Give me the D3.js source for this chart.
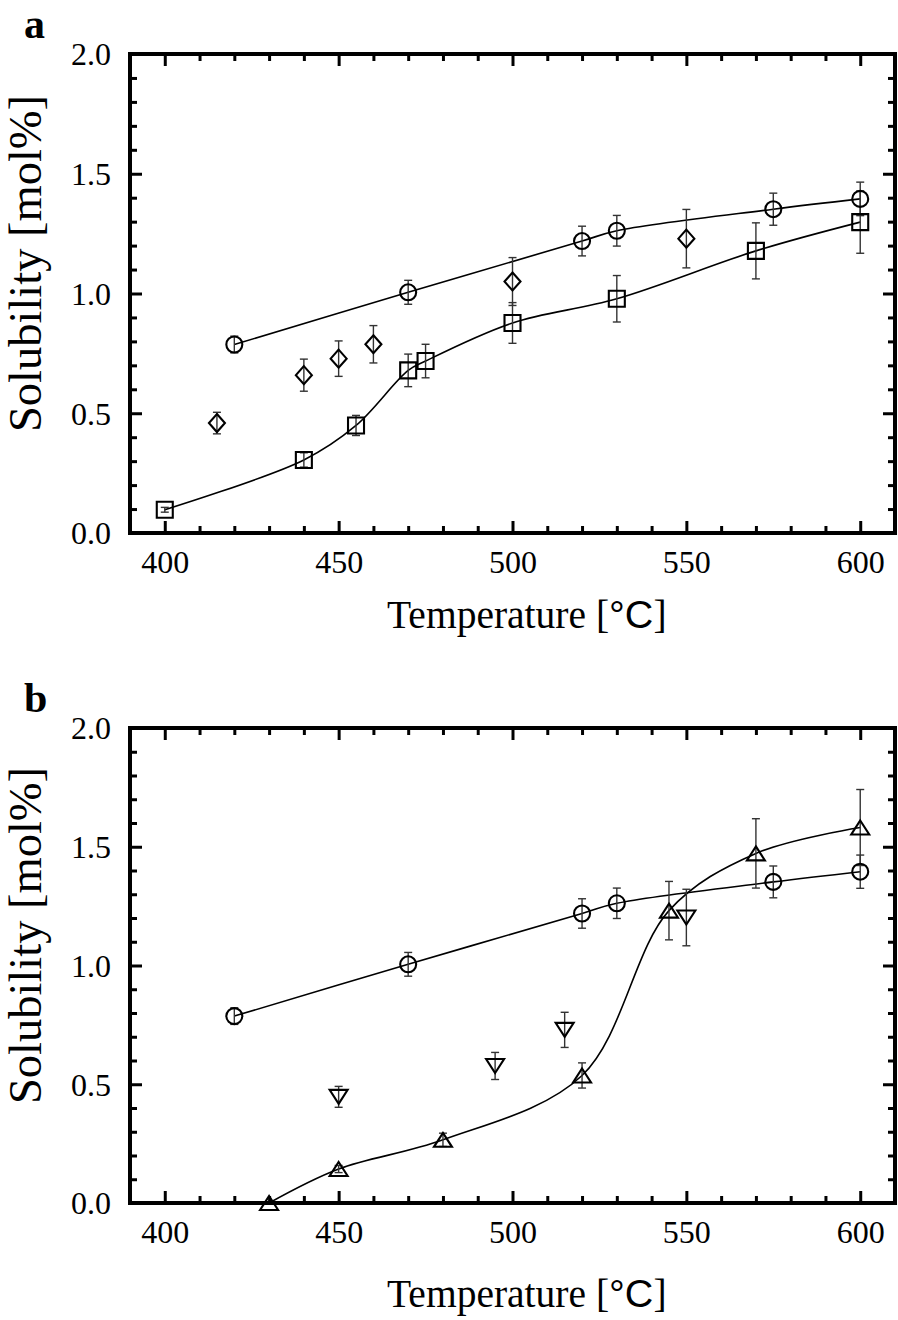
<!DOCTYPE html>
<html>
<head>
<meta charset="utf-8">
<script src="https://cdn.jsdelivr.net/npm/d3@7"></script>
<style>
  html, body { margin: 0; padding: 0; background: #fff; }
  svg { display: block; }
  svg text { font-family: "Liberation Serif", "Times New Roman", Times, serif; }
  svg text tspan.sans { font-family: "Liberation Sans", Arial, sans-serif; }
</style>
</head>
<body>
<svg id="chart" width="898" height="1320"></svg>
<script>
// ---- Data ----
const xTickLabels = [400, 450, 500, 550, 600];
const yTickLabels = [0.0, 0.5, 1.0, 1.5, 2.0];

// circles (both panels)
const circleT = [420, 470, 520, 530, 575, 600];
const circleV = [0.787, 1.005, 1.219, 1.262, 1.352, 1.395];
const circleE = [0.035, 0.05, 0.062, 0.064, 0.067, 0.07];

// panel a: squares (with curve)
const squareT = [400, 440, 455, 470, 475, 500, 530, 570, 600];
const squareV = [0.097, 0.305, 0.449, 0.679, 0.718, 0.877, 0.978, 1.178, 1.298];
const squareE = [0.01, 0.03, 0.042, 0.068, 0.07, 0.085, 0.097, 0.117, 0.13];

// panel a: diamonds (no curve)
const diamondT = [415, 440, 450, 460, 500, 550];
const diamondV = [0.459, 0.659, 0.728, 0.788, 1.05, 1.229];
const diamondE = [0.045, 0.067, 0.074, 0.078, 0.1, 0.122];

// panel b: up triangles (with curve)
const triUpT = [430, 450, 480, 520, 545, 570, 600];
const triUpV = [0.0, 0.143, 0.266, 0.537, 1.231, 1.472, 1.581];
const triUpE = [0, 0.015, 0.028, 0.053, 0.123, 0.146, 0.16];

// panel b: down triangles (no curve)
const triDownT = [450, 495, 515, 550];
const triDownV = [0.447, 0.577, 0.729, 1.202];
const triDownE = [0.044, 0.057, 0.074, 0.119];

const zip = (t, v, e) => t.map((d, i) => ({t: d, v: v[i], e: e[i]}));

const panels = [
  {label: 'a', top: 54, bottom: 533, titleBase: 628,
   series: [
     {data: zip(circleT, circleV, circleE), shape: 'circle', line: true},
     {data: zip(squareT, squareV, squareE), shape: 'square', line: true},
     {data: zip(diamondT, diamondV, diamondE), shape: 'diamond', line: false}
   ]},
  {label: 'b', top: 728, bottom: 1203, titleBase: 1307,
   series: [
     {data: zip(circleT, circleV, circleE), shape: 'circle', line: true},
     {data: zip(triUpT, triUpV, triUpE), shape: 'triup', line: true},
     {data: zip(triDownT, triDownV, triDownE), shape: 'tridown', line: false}
   ]}
];

const svg = d3.select('#chart');
const left = 130, right = 895;
const serif = '"Liberation Serif", "Times New Roman", Times, serif';

const shapePath = {
  circle: 'M8,0A8,8 0 1,1 -8,0A8,8 0 1,1 8,0Z',
  square: 'M-8,-8H8V8H-8Z',
  diamond: 'M0,-9L8,0L0,9L-8,0Z',
  triup: 'M0,-7L9,7L-9,7Z',
  tridown: 'M0,7L9,-7L-9,-7Z'
};

panels.forEach(p => {
  const x = d3.scaleLinear().domain([390, 610]).range([left, right]);
  const y = d3.scaleLinear().domain([0, 2]).range([p.bottom, p.top]);
  const g = svg.append('g');

  const minorX = d3.range(390, 611, 10).filter(v => v % 50 !== 0);
  const minorY = d3.range(0, 21, 1).map(v => v / 10).filter(v => Math.round(v * 10) % 5 !== 0);

  function styleAxis(sel) {
    sel.attr('font-family', null);
    sel.select('.domain').remove();
    sel.selectAll('.tick line').attr('stroke', '#000').attr('stroke-width', 3);
  }

  // bottom
  const gb = g.append('g').attr('transform', `translate(0,${p.bottom})`)
    .call(d3.axisBottom(x).tickValues(xTickLabels).tickSize(-12).tickPadding(0).tickFormat(d3.format('d')));
  styleAxis(gb);
  gb.selectAll('.tick text').attr('y', 40).attr('dy', 0)
    .style('font-family', serif).style('font-size', '32px').attr('fill', '#000');
  styleAxis(g.append('g').attr('transform', `translate(0,${p.bottom})`)
    .call(d3.axisBottom(x).tickValues(minorX).tickSize(-7).tickFormat('')));
  // top
  styleAxis(g.append('g').attr('transform', `translate(0,${p.top})`)
    .call(d3.axisTop(x).tickValues(xTickLabels).tickSize(-12).tickFormat('')));
  styleAxis(g.append('g').attr('transform', `translate(0,${p.top})`)
    .call(d3.axisTop(x).tickValues(minorX).tickSize(-7).tickFormat('')));
  // left
  const gl = g.append('g').attr('transform', `translate(${left},0)`)
    .call(d3.axisLeft(y).tickValues(yTickLabels).tickSize(-12).tickPadding(0).tickFormat(d3.format('.1f')));
  styleAxis(gl);
  gl.selectAll('.tick text').attr('x', -19).attr('dy', '0.34em')
    .style('font-family', serif).style('font-size', '32px').attr('fill', '#000');
  styleAxis(g.append('g').attr('transform', `translate(${left},0)`)
    .call(d3.axisLeft(y).tickValues(minorY).tickSize(-7).tickFormat('')));
  // right
  styleAxis(g.append('g').attr('transform', `translate(${right},0)`)
    .call(d3.axisRight(y).tickValues(yTickLabels).tickSize(-12).tickFormat('')));
  styleAxis(g.append('g').attr('transform', `translate(${right},0)`)
    .call(d3.axisRight(y).tickValues(minorY).tickSize(-7).tickFormat('')));

  // frame
  g.append('rect').attr('x', left).attr('y', p.top)
    .attr('width', right - left).attr('height', p.bottom - p.top)
    .attr('fill', 'none').attr('stroke', '#000').attr('stroke-width', 4);

  // data
  const line = d3.line().x(d => x(d.t)).y(d => y(d.v)).curve(d3.curveCatmullRom.alpha(0.5));
  p.series.forEach(s => {
    if (s.line) {
      g.append('path').datum(s.data).attr('d', line)
        .attr('fill', 'none').attr('stroke', '#000').attr('stroke-width', 1.6);
    }
  });
  p.series.forEach(s => {
    const eb = g.append('g').attr('stroke', '#333').attr('stroke-width', 1.4);
    s.data.filter(d => d.e > 0).forEach(d => {
      const cx = x(d.t), y1 = y(d.v + d.e), y2 = y(d.v - d.e);
      eb.append('line').attr('x1', cx).attr('x2', cx).attr('y1', y1).attr('y2', y2);
      eb.append('line').attr('x1', cx - 4).attr('x2', cx + 4).attr('y1', y1).attr('y2', y1);
      eb.append('line').attr('x1', cx - 4).attr('x2', cx + 4).attr('y1', y2).attr('y2', y2);
    });
  });
  p.series.forEach(s => {
    g.append('g').selectAll('path').data(s.data).join('path')
      .attr('transform', d => `translate(${x(d.t)},${y(d.v)})`)
      .attr('d', shapePath[s.shape])
      .attr('fill', 'none').attr('stroke', '#000').attr('stroke-width', 2.1);
  });

  // axis titles
  const xt = g.append('text').attr('x', 387).attr('y', p.titleBase)
    .style('font-size', '39.5px').attr('fill', '#000');
  xt.append('tspan').text('Temperature [');
  xt.append('tspan').attr('class', 'sans').text('°C');
  xt.append('tspan').text(']');

  g.append('text')
    .attr('transform', `translate(41,${(p.top + p.bottom) / 2 - 30}) rotate(-90)`)
    .attr('text-anchor', 'middle')
    .style('font-size', '46.5px').attr('fill', '#000')
    .text('Solubility [mol%]');

  // panel label
  g.append('text').attr('x', 24).attr('y', p.top - 16)
    .style('font-size', '42px').style('font-weight', 'bold').attr('fill', '#000')
    .text(p.label);
});
</script>
</body>
</html>
